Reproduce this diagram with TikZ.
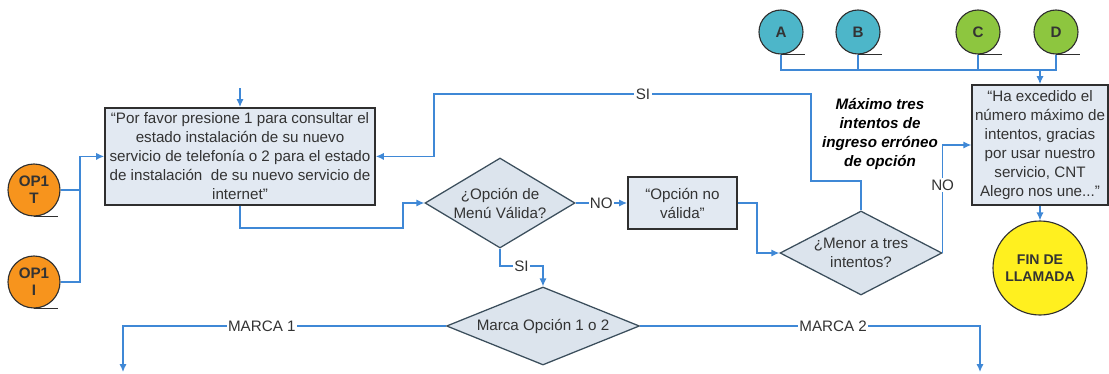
\documentclass[tikz,border=0pt]{standalone}
\usepackage{fontspec}
\setmainfont{Liberation Sans}
\usetikzlibrary{shapes.geometric, arrows.meta, positioning, calc}
\definecolor{flowblue}{HTML}{3F88D6}
\definecolor{boxfill}{HTML}{E2E9F2}
\definecolor{boxline}{HTML}{2F2F2F}
\definecolor{decfill}{HTML}{DCE4ED}
\definecolor{decline}{HTML}{3B4E5C}
\definecolor{refteal}{HTML}{4DB6C9}
\definecolor{refgreen}{HTML}{8DC63F}
\definecolor{reforange}{HTML}{F7941D}
\definecolor{finyellow}{HTML}{FFF01F}
\definecolor{txtgray}{HTML}{333333}

\begin{document}
\begin{tikzpicture}[
        font=\fontsize{10.8}{13.5}\selectfont, text=txtgray,
        block/.style={rectangle, draw=boxline, fill=boxfill, line width=1.2pt, align=center, inner sep=2pt},
        decision/.style={diamond, draw=decline, fill=decfill, line width=0.9pt, align=center, inner sep=0pt},
        ref/.style={circle, draw=boxline, line width=0.8pt, font=\fontsize{10.8}{12}\selectfont\bfseries, align=center, inner sep=0pt},
        arr/.style={flowblue, line width=0.9pt, -{Latex[length=2mm, width=1.8mm]}},
        line/.style={flowblue, line width=0.9pt},
        lbl/.style={fill=white, inner sep=1pt, text=txtgray}
    ]
        \useasboundingbox (0, 0) rectangle (27.725, -9.35);

        \node[ref, fill=reforange, minimum size=1.3cm] (opT) at (0.85, -4.75) {OP1\\T};
        \node[ref, fill=reforange, minimum size=1.3cm] (opI) at (0.85, -7.05) {OP1\\I};
        \node[block, minimum width=6.75cm, minimum height=2.425cm] (menu) at (6.0, -3.91) {“Por favor presione 1 para consultar el\\estado instalación de su nuevo\\servicio de telefonía o 2 para el estado\\de instalación\ \ de su nuevo servicio de\\internet”};
        \node[decision, aspect=1.67, minimum width=3.75cm, minimum height=2.25cm] (valid) at (12.5, -5.075) {¿Opción de\\Menú Válida?};
        \node[block, minimum width=2.725cm, minimum height=1.3cm] (nov) at (17.06, -5.075) {“Opción no\\válida”};
        \node[decision, aspect=1.93, minimum width=4.05cm, minimum height=2.1cm] (menor) at (21.525, -6.325) {¿Menor a tres\\intentos?};
        \node[decision, aspect=2.47, minimum width=4.825cm, minimum height=1.95cm] (marca) at (13.575, -8.15) {Marca Opción 1 o 2};
        \node[block, minimum width=3.35cm, minimum height=3.0cm] (exceed) at (26.0, -3.625) {“Ha excedido el\\número máximo de\\intentos, gracias\\por usar nuestro\\servicio, CNT\\Alegro nos une...”};
        \node[circle, draw=boxline, fill=finyellow, line width=0.8pt, minimum size=2.35cm, font=\bfseries, align=center] (fin) at (26.0, -6.7) {FIN DE\\LLAMADA};
        \node[font=\fontsize{10.8}{13.5}\selectfont\bfseries\itshape, text=black, align=center] (maxnote) at (22.0, -3.34) {Máximo tres\\intentos de\\ingreso erróneo\\de opción};

        \node[ref, fill=refteal, minimum size=1.1cm] (cA) at (19.525, -0.8) {A};
        \node[ref, fill=refteal, minimum size=1.1cm] (cB) at (21.45, -0.8) {B};
        \node[ref, fill=refgreen, minimum size=1.1cm] (cC) at (24.45, -0.8) {C};
        \node[ref, fill=refgreen, minimum size=1.1cm] (cD) at (26.4, -0.8) {D};
        \foreach \c in {opT, opI, cA, cB, cC, cD}
            \draw[boxline, line width=0.8pt] (\c.south) -- ++(0.6, 0);

        \coordinate (entry) at (6.0, -2.2);
        \coordinate (joinL) at (2.0, -4.75);
        \coordinate (lowL) at (10.075, -5.7);
        \coordinate (bendN) at (18.925, -5.075);
        \coordinate (retA) at (20.275, -4.525);
        \coordinate (retB) at (10.85, -2.35);
        \coordinate (bus) at (26.0, -1.75);
        \coordinate (siB) at (13.575, -6.65);
        \coordinate (mark1) at (3.075, -9.3);
        \coordinate (mark2) at (24.5, -9.3);

        \draw[arr] (entry) -- (menu.north);
        \draw[line] (opI.east) -| (joinL);
        \draw[arr] (opT.east) -- (joinL) |- (menu.west);
        \draw[arr] (menu.south) |- (lowL) |- (valid.west);
        \draw[arr] (valid.east) -- node[lbl] {NO} (nov.west);
        \draw[arr] (nov.east) -- (bendN) |- (menor.west);
        \draw[arr] (menor.north) |- (retA) |- (retB) |- (menu.east);
        \node[lbl] (siTop) at (16.075, -2.35) {SI};
        \draw[arr] (menor.east) |- node[lbl, pos=0.315] {NO} (exceed.west);

        \draw[line] (cA.south) |- (cD.south |- bus) -- (cD.south);
        \draw[line] (cB.south) -- (cB.south |- bus);
        \draw[line] (cC.south) -- (cC.south |- bus);
        \draw[arr] (bus) -- (exceed.north);
        \draw[arr] (exceed.south) -- (fin.north);

        \draw[arr] (valid.south) |- node[lbl, pos=0.75] {SI} (siB) -- (marca.north);
        \draw[arr] (marca.west) -| node[lbl, pos=0.285] {MARCA 1} (mark1);
        \draw[arr] (marca.east) -| node[lbl, pos=0.284] {MARCA 2} (mark2);
    \end{tikzpicture}
\end{document}
